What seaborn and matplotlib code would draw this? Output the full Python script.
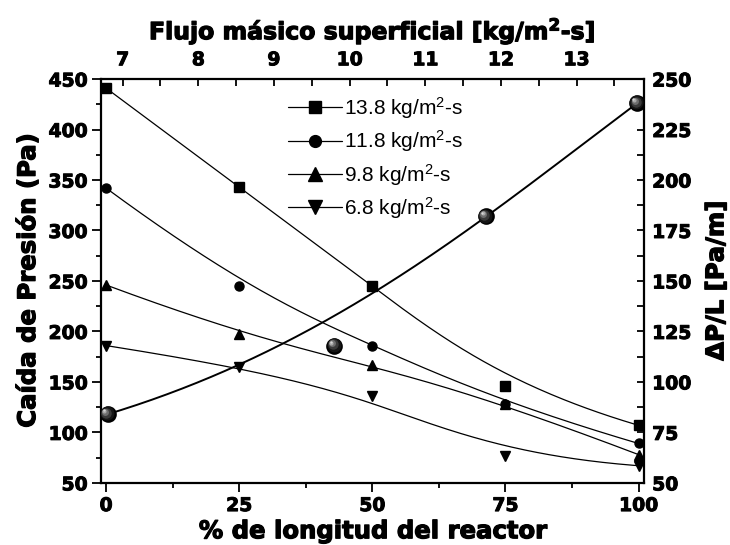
import numpy as np
import matplotlib
matplotlib.use("Agg")
import matplotlib.pyplot as plt
import matplotlib.transforms as mtransforms
import matplotlib.patheffects as pe
from matplotlib.lines import Line2D
from matplotlib.ticker import MultipleLocator
import seaborn as sns

sns.set_theme(style="ticks")
plt.rcParams["font.family"] = ["DejaVu Sans"]
plt.rcParams["mathtext.fontset"] = "custom"
plt.rcParams["mathtext.rm"] = "Liberation Sans"
plt.rcParams["mathtext.bf"] = "DejaVu Sans:bold"
plt.rcParams["mathtext.it"] = "Liberation Sans:italic"
for key in ("text.color", "axes.labelcolor", "xtick.color", "ytick.color", "axes.edgecolor"):
    plt.rcParams[key] = "black"

# Pressure drop along the reactor for each superficial mass flux
posicion = [0, 25, 50, 75, 100]
caida_138 = [441, 343, 245, 146, 107]
caida_118 = [342, 245, 186, 128, 89]
caida_98 = [246, 197, 167, 128, 78]
caida_68 = [186, 165, 136, 77, 67]

# Pressure gradient versus superficial mass flux
flujo = [6.8, 9.8, 11.8, 13.8]
dpl = [84, 118, 182, 238]

series = [
    ("13.8 kg/m$^2$-s", caida_138, "s", 6.5),
    ("11.8 kg/m$^2$-s", caida_118, "o", 6.5),
    ("9.8 kg/m$^2$-s", caida_98, "^", 7.5),
    ("6.8 kg/m$^2$-s", caida_68, "v", 7.5),
]


def bspline(xp, yp, n=300):
    """Clamped cubic B-spline using the data points as control points."""
    P = np.column_stack([xp, yp]).astype(float)
    m = len(P)
    k = min(3, m - 1)
    inner = np.linspace(0, 1, m - k + 1)[1:-1]
    knots = np.concatenate([np.zeros(k + 1), inner, np.ones(k + 1)])
    t = np.linspace(0, 1, n)
    t[-1] -= 1e-12
    # Cox-de Boor recursion
    B = np.zeros((n, len(knots) - 1))
    for i in range(len(knots) - 1):
        B[:, i] = (t >= knots[i]) & (t < knots[i + 1])
    for d in range(1, k + 1):
        Bn = np.zeros((n, len(knots) - 1 - d))
        for i in range(len(knots) - 1 - d):
            a = knots[i + d] - knots[i]
            b = knots[i + d + 1] - knots[i + 1]
            left = (t - knots[i]) / a * B[:, i] if a > 0 else 0
            right = (knots[i + d + 1] - t) / b * B[:, i + 1] if b > 0 else 0
            Bn[:, i] = left + right
        B = Bn
    C = B @ P
    return C[:, 0], C[:, 1]


fig = plt.figure(figsize=(7.3, 5.45), dpi=100)
pos = [0.138, 0.114, 0.744, 0.741]
ax = fig.add_axes(pos)
ax2 = fig.add_axes(pos, frameon=False)

handles = []
for label, vals, mk, ms in series:
    cx, cy = bspline(posicion, vals)
    sns.lineplot(x=cx, y=cy, ax=ax, color="black", lw=0.9, sort=False)
    ax.plot(posicion, vals, ls="none", marker=mk, ms=ms, color="black")
    handles.append(Line2D([], [], color="black", lw=0.9, marker=mk, ms=ms + 2))

# Gradient curve on the secondary axes
gx, gy = bspline(flujo, dpl)
sns.lineplot(x=gx, y=gy, ax=ax2, color="black", lw=1.4, sort=False)

# Shaded sphere markers
for i, (r, c) in enumerate([(12.0, "#000000"), (10.0, "#151515"), (7.5, "#3a3a3a"),
                            (5.0, "#6e6e6e"), (3.0, "#a8a8a8"), (1.6, "#d8d8d8")]):
    shift = 0.55 * i
    tr = mtransforms.offset_copy(ax2.transData, fig=fig, x=-shift, y=shift, units="points")
    ax2.plot(flujo, dpl, ls="none", marker="o", ms=r, color=c, mew=0, transform=tr, zorder=5 + i)

ax.set_xlim(-1, 101)
ax.set_ylim(50, 450)
ax2.set_xlim(6.71, 13.89)
ax2.set_ylim(50, 250)

ax.xaxis.set_major_locator(MultipleLocator(25))
ax.xaxis.set_minor_locator(MultipleLocator(12.5))
ax.yaxis.set_major_locator(MultipleLocator(50))
ax.yaxis.set_minor_locator(MultipleLocator(25))
ax2.xaxis.set_major_locator(MultipleLocator(1))
ax2.xaxis.set_minor_locator(MultipleLocator(0.5))
ax2.yaxis.set_major_locator(MultipleLocator(25))
ax2.yaxis.set_minor_locator(MultipleLocator(12.5))

ax2.xaxis.tick_top()
ax2.yaxis.tick_right()
ax2.xaxis.set_label_position("top")
ax2.yaxis.set_label_position("right")

for s in ax.spines.values():
    s.set_linewidth(1.6)
    s.set_color("black")

ax.tick_params(which="major", direction="out", length=6.5, width=1.3, labelsize=13.5, pad=3, colors="black")
ax.tick_params(which="minor", direction="out", length=3.5, width=1.3)
ax.tick_params(axis="x", pad=3)
ax2.tick_params(which="major", direction="in", length=5, width=1.3, labelsize=13.5, pad=6, colors="black")
ax2.tick_params(which="minor", direction="in", length=5, width=1.3)
ax2.tick_params(axis="x", pad=7)

heavy = [pe.withStroke(linewidth=0.7, foreground="black")]
for a in (ax, ax2):
    for t in a.get_xticklabels() + a.get_yticklabels():
        t.set_fontweight("bold")
        t.set_path_effects(heavy)

lab = dict(fontsize=17.5, fontweight="bold")
ax.set_xlabel("% de longitud del reactor", labelpad=3, **lab)
ax.set_ylabel("Caída de Presión (Pa)", labelpad=6, **lab)
ax2.set_xlabel(r"Flujo másico superficial [kg/m$^\mathbf{2}$-s]", labelpad=8, fontsize=17, fontweight="bold")
ax2.set_ylabel(r"$\mathbf{\Delta}$P/L [Pa/m]", labelpad=8, **lab)
ax2.yaxis.label.set_rotation(90)
for t in (ax.xaxis.label, ax.yaxis.label, ax2.xaxis.label, ax2.yaxis.label):
    t.set_path_effects([pe.withStroke(linewidth=0.9, foreground="black")])

leg = ax2.legend(handles, [s[0] for s in series], loc="upper left",
                 bbox_to_anchor=(0.318, 0.997), frameon=False,
                 prop={"family": "Liberation Sans", "size": 15},
                 handlelength=2.6, handletextpad=0.1, labelspacing=0.36, borderpad=0.2)

fig.savefig("out.png", dpi=100)
